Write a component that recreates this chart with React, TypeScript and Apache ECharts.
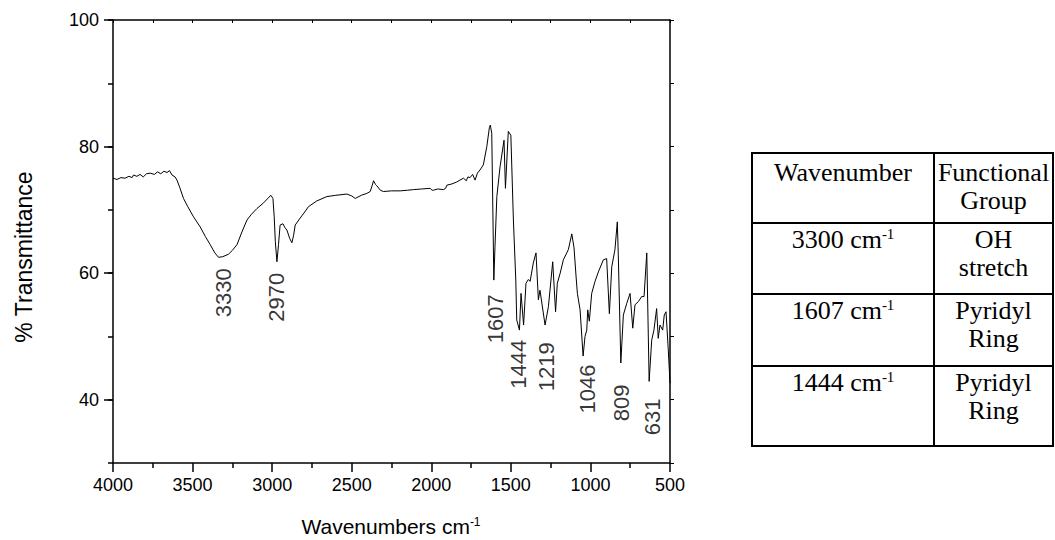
import React, { useEffect, useRef } from 'react';
import * as echarts from 'echarts';

// ---- spectrum ----
const wavenumbers = [
  4000, 3975, 3950, 3925, 3900, 3880, 3871, 3850, 3830, 3810, 3790, 3766, 3740, 3720, 3700, 3680, 3661, 3645,
  3629, 3610, 3598, 3580, 3557, 3530, 3494, 3452, 3420, 3389, 3360, 3337, 3310, 3274, 3250, 3221, 3190, 3158,
  3130, 3096, 3054, 3020, 3008, 2995, 2987, 2980, 2970, 2960, 2950, 2932, 2920, 2907, 2890, 2876, 2865, 2855,
  2824, 2800, 2772, 2720, 2656, 2600, 2530, 2500, 2478, 2440, 2405, 2384, 2372, 2363, 2350, 2342, 2320, 2301,
  2250, 2196, 2150, 2112, 2060, 2007, 1995, 1987, 1960, 1924, 1910, 1902, 1870, 1840, 1820, 1798, 1780, 1770,
  1756, 1740, 1725, 1710, 1694, 1673, 1651, 1635, 1629, 1620, 1607, 1600, 1588, 1568, 1543, 1534, 1516, 1500,
  1484, 1469, 1463, 1446, 1436, 1420, 1405, 1390, 1379, 1359, 1342, 1327, 1317, 1285, 1264, 1237, 1219, 1208,
  1190, 1170, 1139, 1117, 1103, 1090, 1082, 1065, 1046, 1034, 1023, 1017, 1007, 992, 971, 950, 919, 898, 881,
  866, 846, 831, 825, 809, 793, 772, 751, 734, 720, 699, 678, 663, 646, 631, 615, 601, 584, 574, 563, 546, 536,
  525, 511, 500,
];
const transmittance = [
  75.0, 74.8, 75.1, 75.0, 75.3, 75.1, 75.5, 75.3, 75.6, 75.2, 75.7, 75.8, 75.6, 76.0, 75.7, 76.1, 75.9, 76.2,
  75.5, 75.2, 74.7, 73.5, 71.8, 70.5, 68.9, 67.3, 65.8, 64.5, 63.2, 62.5, 62.6, 63.0, 63.6, 64.5, 66.5, 68.4,
  69.3, 70.2, 71.1, 72.0, 72.3, 71.8, 68.9, 65.0, 61.8, 64.5, 67.6, 67.8, 67.2, 66.8, 65.5, 64.8, 66.0, 67.6,
  68.7, 69.5, 70.5, 71.4, 72.1, 72.3, 72.5, 72.2, 71.8, 72.3, 72.6, 72.9, 73.8, 74.6, 74.0, 73.8, 73.1, 72.9,
  73.0, 73.0, 73.1, 73.2, 73.3, 73.4, 73.1, 73.1, 73.3, 73.2, 73.4, 73.9, 74.1, 74.4, 74.7, 75.0, 74.6, 75.2,
  75.1, 75.6, 74.7, 75.8, 76.3, 77.1, 80.0, 83.0, 83.4, 82.1, 58.9, 64.0, 72.1, 76.8, 81.0, 73.4, 82.4, 81.8,
  68.4, 58.9, 52.6, 51.0, 56.8, 51.8, 58.4, 59.0, 58.7, 61.6, 63.2, 55.8, 57.3, 51.8, 54.7, 61.8, 53.9, 58.4,
  60.0, 62.1, 63.7, 66.2, 64.0, 59.4, 56.8, 54.2, 46.9, 50.0, 51.0, 54.2, 52.4, 56.8, 58.7, 60.2, 62.1, 62.3, 53.6,
  61.0, 63.7, 68.1, 63.0, 45.8, 53.4, 55.2, 56.8, 51.3, 55.0, 55.5, 56.3, 56.3, 63.2, 42.9, 49.4, 51.0, 54.4, 49.7,
  51.8, 51.0, 53.4, 53.9, 48.0, 42.6,
];

// ---- peak annotations ----
const peakLabels = ['3330', '2970', '1607', '1444', '1219', '1046', '809', '631'];
const peakLabelX = [3304, 2971, 1599, 1455, 1273, 1021, 802, 613];
const peakLabelY = [56.9, 56.2, 52.8, 45.6, 45.2, 41.7, 39.5, 37.3];

// ---- axes ----
const xMin = 500;
const xMax = 4000;
const yMin = 30;
const yMax = 100;
const yLabelTicks = [40, 60, 80, 100];

// ---- table ----
const tableHeaderLeft = ['Wavenumber'];
const tableHeaderRight = ['Functional', 'Group'];
const tableWavenumbers = ['3300', '1607', '1444'];
const tableGroups = [
  ['OH', 'stretch'],
  ['Pyridyl', 'Ring'],
  ['Pyridyl', 'Ring'],
];

const SANS = 'Liberation Sans, Arial, sans-serif';
const SERIF = 'Liberation Serif, Times New Roman, serif';

export default function App() {
  const ref = useRef<HTMLDivElement>(null);

  useEffect(() => {
    if (!ref.current) return;
    const chart = echarts.init(ref.current, null, { renderer: 'svg' });

    const axisLineStyle = { color: '#000', width: 1.5 };

    // table geometry
    const tL = 752, tR = 1053, tC = 934;
    const rows = [153, 223, 294, 366, 446];
    const c1 = (tL + tC) / 2;
    const c2 = (tC + tR) / 2;
    const tableGraphics: any[] = [];
    tableGraphics.push({
      type: 'rect',
      shape: { x: tL, y: rows[0], width: tR - tL, height: rows[4] - rows[0] },
      style: { fill: 'none', stroke: '#000', lineWidth: 2 },
    });
    tableGraphics.push({
      type: 'line',
      shape: { x1: tC, y1: rows[0], x2: tC, y2: rows[4] },
      style: { stroke: '#000', lineWidth: 2 },
    });
    for (let i = 1; i < 4; i++) {
      tableGraphics.push({
        type: 'line',
        shape: { x1: tL, y1: rows[i], x2: tR, y2: rows[i] },
        style: { stroke: '#000', lineWidth: 2 },
      });
    }
    const cellText = (x: number, y: number, text: string) => ({
      type: 'text',
      x,
      y,
      style: {
        text,
        fill: '#000',
        fontFamily: SERIF,
        fontSize: 26,
        align: 'center',
        verticalAlign: 'middle',
        rich: {
          sup: { fontFamily: SERIF, fontSize: 15, fill: '#000', verticalAlign: 'top', lineHeight: 15, padding: [0, 0, 12, 0] },
        },
      },
    });
    tableHeaderLeft.forEach((t, i) => tableGraphics.push(cellText(c1, rows[0] + 19 + i * 28, t)));
    tableHeaderRight.forEach((t, i) => tableGraphics.push(cellText(c2, rows[0] + 19 + i * 28, t)));
    tableWavenumbers.forEach((w, r) => {
      tableGraphics.push(cellText(c1, rows[r + 1] + 16, `${w} cm{sup|-1}`));
      tableGroups[r].forEach((g, i) => tableGraphics.push(cellText(c2, rows[r + 1] + 16 + i * 28, g)));
    });

    chart.setOption({
      animation: false,
      backgroundColor: '#fff',
      grid: { left: 113, top: 20, width: 557, height: 443 },
      xAxis: [
        {
          type: 'value',
          position: 'bottom',
          min: xMin,
          max: xMax,
          inverse: true,
          interval: 500,
          axisLine: { show: true, onZero: false, lineStyle: axisLineStyle },
          axisTick: { show: true, inside: false, length: 9, lineStyle: axisLineStyle },
          minorTick: { show: true, splitNumber: 2, length: 5, lineStyle: axisLineStyle },
          axisLabel: { fontSize: 18, color: '#000', fontFamily: SANS, margin: 13, formatter: (v: number) => String(v) },
          splitLine: { show: false },
          minorSplitLine: { show: false },
        },
        {
          type: 'value',
          position: 'top',
          min: xMin,
          max: xMax,
          inverse: true,
          interval: 250,
          axisLine: { show: true, onZero: false, lineStyle: axisLineStyle },
          axisTick: { show: true, inside: true, length: 3, lineStyle: { color: '#000', width: 1 } },
          axisLabel: { show: false },
          splitLine: { show: false },
        },
      ],
      yAxis: [
        {
          type: 'value',
          position: 'left',
          min: yMin,
          max: yMax,
          interval: 10,
          axisLine: { show: true, onZero: false, lineStyle: axisLineStyle },
          axisTick: { show: true, length: 5, lineStyle: axisLineStyle },
          axisLabel: { show: false },
          splitLine: { show: false },
        },
        {
          type: 'value',
          position: 'left',
          min: yMin,
          max: yMax,
          axisLine: { show: false },
          axisTick: { show: true, length: 9, lineStyle: axisLineStyle, customValues: yLabelTicks },
          axisLabel: { show: true, fontSize: 18, color: '#000', fontFamily: SANS, margin: 14, customValues: yLabelTicks },
          splitLine: { show: false },
        },
        {
          type: 'value',
          position: 'right',
          min: yMin,
          max: yMax,
          interval: 10,
          axisLine: { show: true, onZero: false, lineStyle: axisLineStyle },
          axisTick: { show: true, length: 4, lineStyle: { color: '#000', width: 1 } },
          axisLabel: { show: false },
          splitLine: { show: false },
        },
      ],
      series: [
        {
          type: 'line',
          xAxisIndex: 0,
          yAxisIndex: 0,
          data: wavenumbers.map((w, i) => [w, transmittance[i]]),
          symbol: 'none',
          lineStyle: { color: '#000', width: 1 },
          silent: true,
        },
        {
          type: 'scatter',
          xAxisIndex: 0,
          yAxisIndex: 0,
          data: peakLabelX.map((x, i) => [x, peakLabelY[i]]),
          symbolSize: 1,
          itemStyle: { color: 'rgba(0,0,0,0)' },
          silent: true,
          label: {
            show: true,
            position: 'inside',
            rotate: 90,
            fontSize: 22,
            color: '#000',
            fontFamily: SANS,
            formatter: (p: any) => peakLabels[p.dataIndex],
          },
        },
      ],
      graphic: [
        {
          type: 'text',
          x: 24,
          y: 257,
          rotation: Math.PI / 2,
          style: {
            text: '% Transmittance',
            fill: '#000',
            fontFamily: SANS,
            fontSize: 23,
            align: 'center',
            verticalAlign: 'middle',
          },
        },
        {
          type: 'text',
          x: 391,
          y: 526,
          style: {
            text: 'Wavenumbers cm{sup|-1}',
            fill: '#000',
            fontFamily: SANS,
            fontSize: 21,
            align: 'center',
            verticalAlign: 'middle',
            rich: {
              sup: { fontFamily: SANS, fontSize: 12, fill: '#000', verticalAlign: 'top', lineHeight: 12, padding: [0, 0, 10, 0] },
            },
          },
        },
        ...tableGraphics,
      ],
    });

    return () => chart.dispose();
  }, []);

  return <div ref={ref} style={{ position: 'absolute', left: 0, top: 0, width: 1055, height: 540 }} />;
}
